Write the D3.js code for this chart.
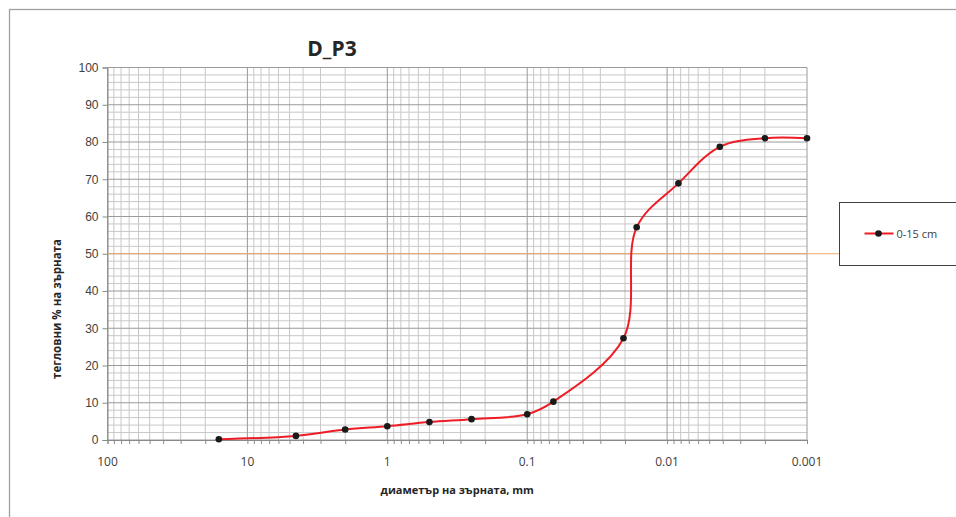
<!DOCTYPE html>
<html>
<head>
<meta charset="utf-8">
<script src="https://cdn.jsdelivr.net/npm/d3@7"></script>
<style>
  body { margin: 0; background: #fff; }
  svg { display: block; font-family: "Open Sans", "DejaVu Sans", sans-serif; }
</style>
</head>
<body>
<script>
// grain size distribution curve, D_P3
var chartTitle = "D_P3";
var xTitle = "диаметър на зърната, mm";
var yTitle = "тегловни % на зърната";
var seriesName = "0-15 cm";

// grain diameter (mm) and passing (%)
var diameters = [16, 4.5, 2, 1, 0.5, 0.25, 0.1, 0.065, 0.0205, 0.0165, 0.0083, 0.0042, 0.002, 0.001];
var passing   = [0.2, 1.1, 2.8, 3.7, 4.8, 5.6, 6.9, 10.3, 27.3, 57.1, 68.9, 78.7, 81.0, 81.0];

var xTickValues = [100, 10, 1, 0.1, 0.01, 0.001];
var xTickLabels = ["100", "10", "1", "0.1", "0.01", "0.001"];
var yTickValues = [0, 10, 20, 30, 40, 50, 60, 70, 80, 90, 100];
var refLevel = 50;   // orange 50% line

var W = 956, H = 517;
var margin = {top: 67.5, left: 107.5, right: 149, bottom: 77};
var plotW = W - margin.left - margin.right,
    plotH = H - margin.top - margin.bottom;

var svg = d3.select("body").append("svg")
    .attr("width", W)
    .attr("height", H);

// outer chart frame (runs off the right and bottom edge)
svg.append("rect")
    .attr("x", 9.5).attr("y", 9.5)
    .attr("width", W + 20).attr("height", H + 20)
    .attr("fill", "#fff")
    .attr("stroke", "#a0a0a0")
    .attr("stroke-width", 1.3);

var x = d3.scaleLog().domain([100, 0.001]).range([0, plotW]);
var y = d3.scaleLinear().domain([0, 100]).range([plotH, 0]);

var g = svg.append("g")
    .attr("transform", "translate(" + margin.left + "," + margin.top + ")");

// minor grid
var minorX = x.ticks().filter(function(d) { return xTickValues.indexOf(+d.toPrecision(6)) < 0; });
var minorY = d3.range(0, 101, 2).filter(function(d) { return d % 10 !== 0; });

g.selectAll("line.minx").data(minorX).enter().append("line")
    .attr("class", "minx")
    .attr("x1", function(d) { return x(d); }).attr("x2", function(d) { return x(d); })
    .attr("y1", 0).attr("y2", plotH)
    .attr("stroke", "#c8c8c8").attr("stroke-width", 1);

g.selectAll("line.miny").data(minorY).enter().append("line")
    .attr("class", "miny")
    .attr("x1", 0).attr("x2", plotW)
    .attr("y1", function(d) { return y(d); }).attr("y2", function(d) { return y(d); })
    .attr("stroke", "#c8c8c8").attr("stroke-width", 1);

// major grid
g.selectAll("line.majx").data(xTickValues).enter().append("line")
    .attr("class", "majx")
    .attr("x1", function(d) { return x(d); }).attr("x2", function(d) { return x(d); })
    .attr("y1", 0).attr("y2", plotH)
    .attr("stroke", "#9a9a9a").attr("stroke-width", 1);

g.selectAll("line.majy").data(yTickValues).enter().append("line")
    .attr("class", "majy")
    .attr("x1", 0).attr("x2", plotW)
    .attr("y1", function(d) { return y(d); }).attr("y2", function(d) { return y(d); })
    .attr("stroke", "#9a9a9a").attr("stroke-width", 1);

// y axis
var yAxis = g.append("g")
    .call(d3.axisLeft(y).tickValues(yTickValues).tickSize(5).tickPadding(4));
yAxis.select(".domain").attr("stroke", "#8a8a8a");
yAxis.selectAll(".tick line").attr("stroke", "#8a8a8a");
yAxis.selectAll("text").attr("fill", "#404040").style("font-size", "12px");

// x axis: ticks on every grid line, labels only on decades
var xAxis = g.append("g")
    .attr("transform", "translate(0," + plotH + ")")
    .call(d3.axisBottom(x).tickValues(x.ticks()).tickSize(4).tickFormat(""));
xAxis.select(".domain").attr("stroke", "#8a8a8a");
xAxis.selectAll(".tick line").attr("stroke", "#8a8a8a");

g.selectAll("text.xlab").data(xTickValues).enter().append("text")
    .attr("class", "xlab")
    .attr("x", function(d) { return x(d); })
    .attr("y", plotH + 26)
    .attr("text-anchor", "middle")
    .attr("fill", "#404040")
    .style("font-size", "12px")
    .text(function(d, i) { return xTickLabels[i]; });

// legend box
var legX = 839.5, legY = 202.5;
svg.append("rect")
    .attr("x", legX).attr("y", legY)
    .attr("width", 130).attr("height", 63)
    .attr("fill", "#fff")
    .attr("stroke", "#404040").attr("stroke-width", 1);

// 50% reference line, runs into the legend box
g.append("line")
    .attr("x1", 0).attr("x2", legX - margin.left + 6.5)
    .attr("y1", y(refLevel)).attr("y2", y(refLevel))
    .attr("stroke", "#f0a868").attr("stroke-width", 1.2);

// curve
var pts = diameters.map(function(d, i) { return [x(d), y(passing[i])]; });
var line = d3.line().curve(d3.curveCatmullRom.alpha(0.5));

g.append("path")
    .attr("d", line(pts))
    .attr("fill", "none")
    .attr("stroke", "#ee1c25")
    .attr("stroke-width", 2);

g.selectAll("circle.pt").data(pts).enter().append("circle")
    .attr("class", "pt")
    .attr("cx", function(d) { return d[0]; })
    .attr("cy", function(d) { return d[1]; })
    .attr("r", 3.3)
    .attr("fill", "#1a1a1a");

// legend entry
var legItemY = legY + 31;
svg.append("line")
    .attr("x1", legX + 25).attr("x2", legX + 54)
    .attr("y1", legItemY).attr("y2", legItemY)
    .attr("stroke", "#ee1c25").attr("stroke-width", 2);
svg.append("circle")
    .attr("cx", legX + 39).attr("cy", legItemY).attr("r", 3.3)
    .attr("fill", "#1a1a1a");
svg.append("text")
    .attr("x", legX + 57).attr("y", legItemY + 4)
    .attr("fill", "#404040")
    .style("font-size", "11px")
    .text(seriesName);

// titles
svg.append("text")
    .attr("x", 332).attr("y", 56)
    .attr("text-anchor", "middle")
    .attr("fill", "#262626")
    .style("font-size", "21px").style("font-weight", "bold")
    .text(chartTitle);

svg.append("text")
    .attr("x", margin.left + plotW / 2).attr("y", 494)
    .attr("text-anchor", "middle")
    .attr("fill", "#262626")
    .style("font-size", "11px").style("font-weight", "bold")
    .text(xTitle);

svg.append("text")
    .attr("transform", "translate(61,309) rotate(-90)")
    .attr("text-anchor", "middle")
    .attr("fill", "#262626")
    .style("font-size", "11.5px").style("font-weight", "bold")
    .text(yTitle);
</script>
</body>
</html>
